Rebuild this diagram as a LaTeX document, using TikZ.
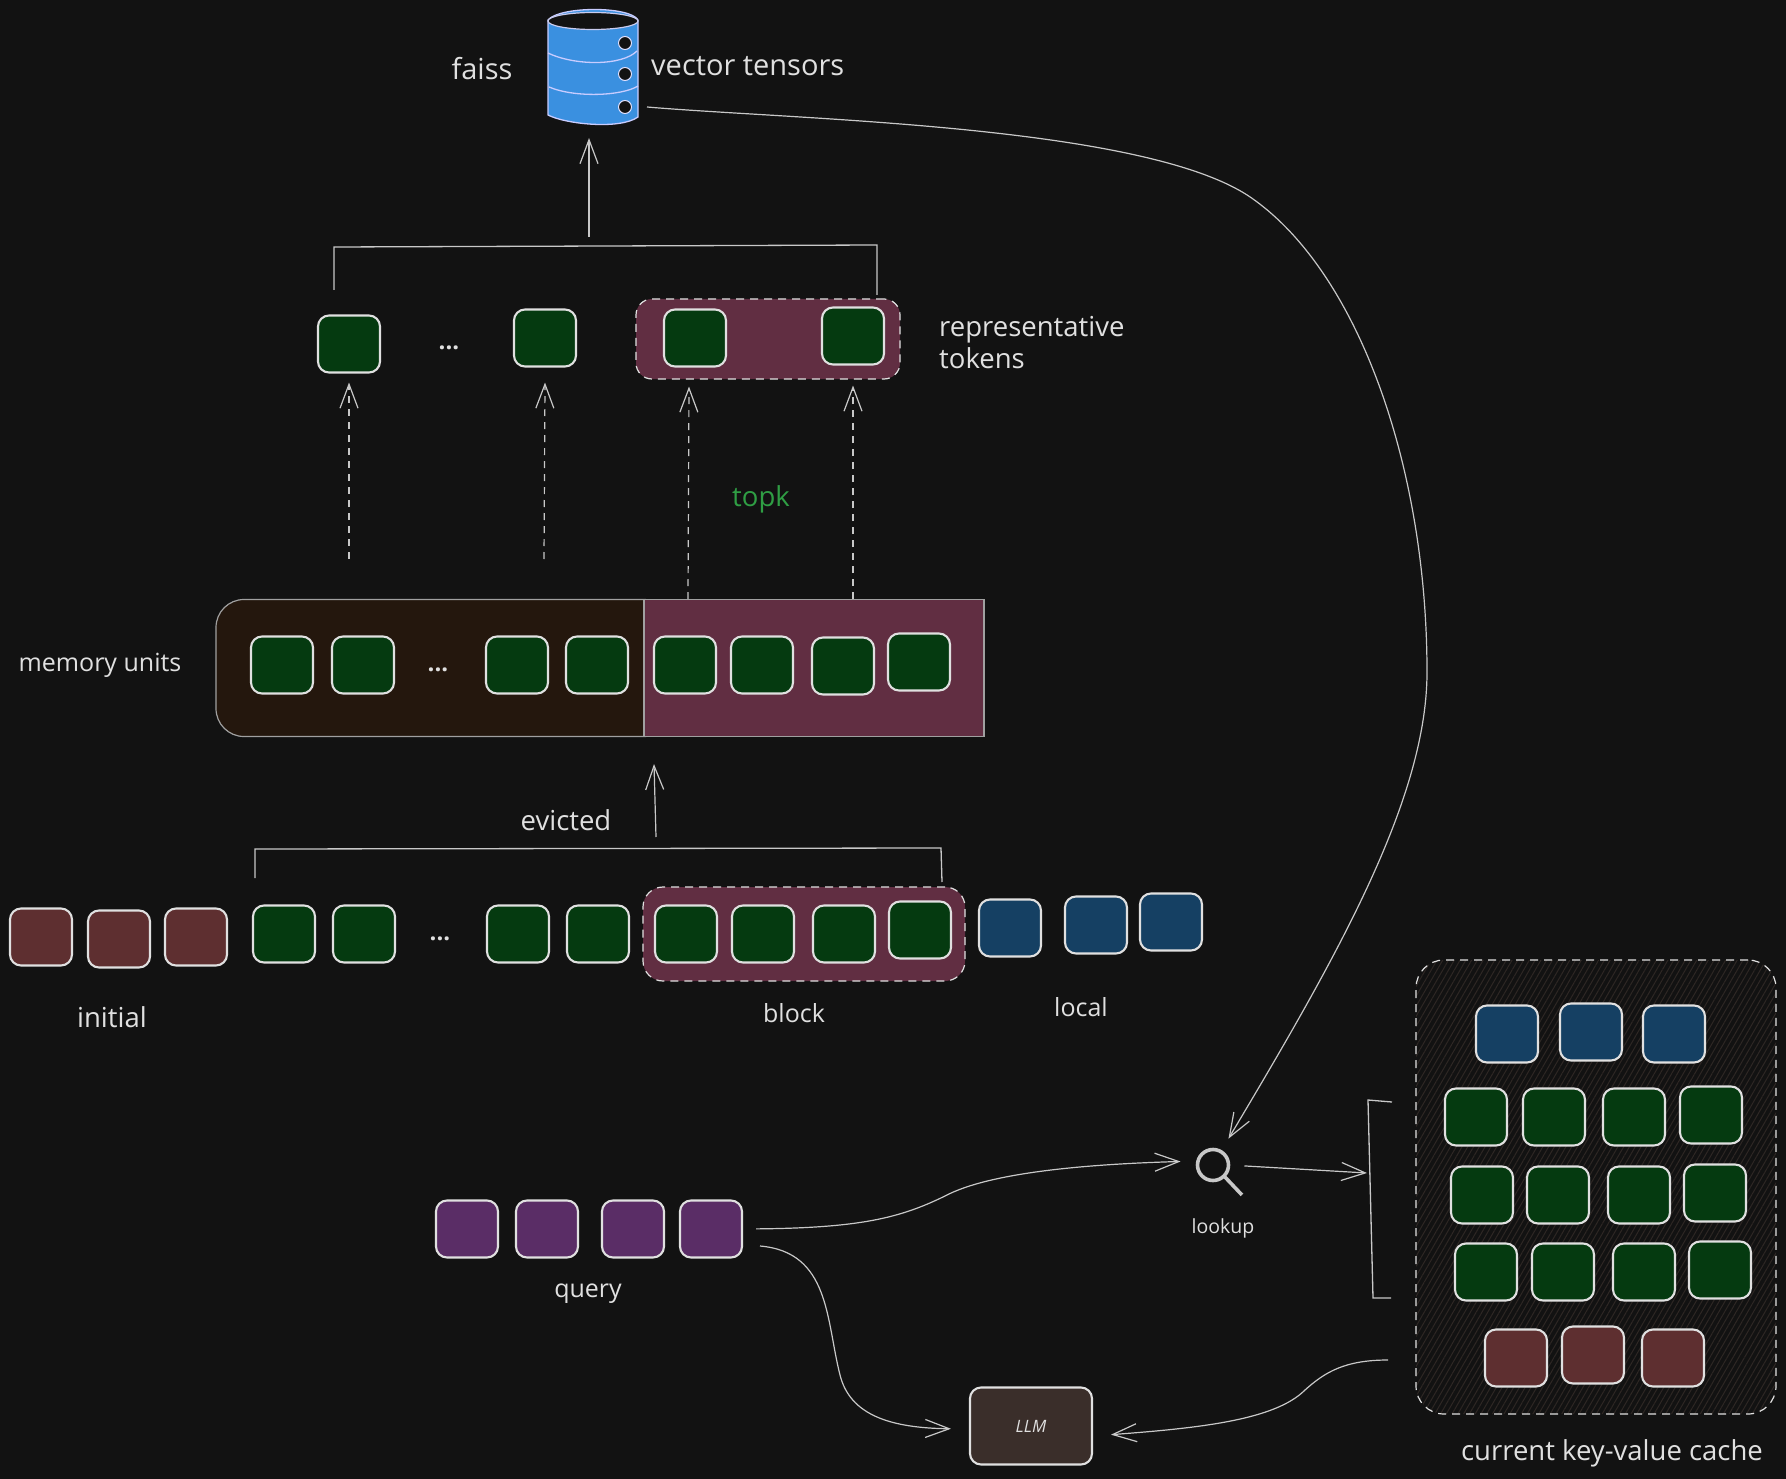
\documentclass[tikz,border=0pt]{standalone}
\usepackage{fontspec}
\setmainfont{Open Sans}
\usetikzlibrary{positioning,arrows.meta,patterns.meta}
\definecolor{bgc}{HTML}{121212}
\definecolor{inkc}{HTML}{E0E0E0}
\definecolor{lnc}{HTML}{C8C8C8}
\definecolor{grn}{HTML}{053A10}
\definecolor{rdc}{HTML}{5E2F30}
\definecolor{blu}{HTML}{154063}
\definecolor{pur}{HTML}{5A2D66}
\definecolor{wine}{HTML}{612E42}
\definecolor{umber}{HTML}{24170D}
\definecolor{llmc}{HTML}{3A2E2A}
\definecolor{hatchc}{HTML}{2E2724}
\definecolor{dbc}{HTML}{3A90E0}
\definecolor{dbl}{HTML}{C8CCFF}
\definecolor{topkc}{HTML}{2F9E44}
\tikzset{
 sq/.style
  = {rectangle, draw=inkc, line width=2.1pt, rounded corners=11pt, inner sep=0pt, outer sep=0pt,
     minimum width=62pt, minimum height=57pt},
 gn/.style = {sq, fill=grn},
 rd/.style = {sq, fill=rdc},
 bu/.style = {sq, fill=blu},
 pu/.style = {sq, fill=pur},
 grp/.style
  = {rectangle, draw=inkc, dashed, dash pattern=on 8pt off 6pt, line width=1.2pt, fill=wine, inner sep=0pt},
 mem/.style
  = {rectangle, draw=lnc!80!black, line width=1.2pt, inner sep=0pt, minimum height=137pt},
 txt/.style
  = {text=inkc, inner sep=0pt, font=\fontsize{25}{32}\selectfont},
 txtw/.style
  = {txt, font=\fontsize{27.5}{32}\selectfont},
 txtx/.style
  = {txt, font=\fontsize{29}{32}\selectfont},
 small/.style
  = {text=inkc, inner sep=0pt, font=\fontsize{19.5}{24}\selectfont},
 dots/.style
  = {text=inkc, inner sep=0pt, font=\bfseries\fontsize{24}{24}\selectfont},
 l/.style
  = {draw=lnc, line width=1.2pt, -{Straight Barb[length=24pt,width=18pt]}},
 ld/.style
  = {l, dashed, dash pattern=on 7pt off 6pt},
 br/.style
  = {draw=lnc, line width=1.3pt}
}

\begin{document}
\begin{tikzpicture}[x=1pt,y=-1pt]
    \fill [bgc] (0,0) rectangle (1786,1479);
    \useasboundingbox (0,0) rectangle (1786,1479);

    % groups behind the squares
    \node [mem, fill=umber, rounded corners=28pt, minimum width=456pt] (memleft) at (444,668) {};
    \node [mem, fill=wine, minimum width=340pt] (memright) at (814,668) {};
    \node [grp, rounded corners=16pt, minimum width=264pt, minimum height=80pt] (repgrp) at (768,339) {};
    \node [grp, rounded corners=20pt, minimum width=322pt, minimum height=94pt] (blockgrp) at (804,934) {};
    \node [grp, fill=none, pattern={Lines[angle=60,distance=5pt,line width=1pt]}, pattern color=hatchc,
           rounded corners=28pt, minimum width=360pt, minimum height=454pt] (cache) at (1596,1187) {};

    % database
    \node [minimum width=90pt, minimum height=116pt, inner sep=0pt] (faissdb) at (593,68) {};
    \filldraw [fill=dbc, draw=dbl, line width=1.3pt] (548,20) -- (548,115)
        .. controls (565,124) and (620,130) .. (638,117) -- (638,20)
        .. controls (630,6) and (560,6) .. cycle;
    \filldraw [fill=bgc, draw=dbl!70!lnc, line width=1.2pt] (593,21) ellipse (45pt and 8.5pt);
    \draw [dbl, line width=1.3pt] (548,53) .. controls (575,66) and (622,66) .. (637,51);
    \draw [dbl, line width=1.3pt] (549,87) .. controls (575,98) and (622,96) .. (638,86);
    \foreach \y in {43,74,107} \filldraw [fill=bgc, draw=dbl!60!white, line width=1pt] (625,\y) circle (6.5pt);

    % representative tokens
    \node [gn] (t1) at (349,344) {};
    \node [gn, right = 134pt of t1, yshift=6pt] (t2) {};
    \node [gn, right = 88pt of t2] (t3) {};
    \node [gn, right = 96pt of t3, yshift=2pt] (t4) {};
    \node [dots] (tdots) at (449,348) {...};

    % memory units
    \node [gn] (m1) at (282,665) {};
    \node [gn, right = 19pt of m1] (m2) {};
    \node [gn, right = 92pt of m2] (m3) {};
    \node [gn, right = 18pt of m3] (m4) {};
    \node [gn, right = 26pt of m4] (m5) {};
    \node [gn, right = 15pt of m5] (m6) {};
    \node [gn, right = 19pt of m6, yshift=-1pt] (m7) {};
    \node [gn, right = 14pt of m7, yshift=4pt] (m8) {};
    \node [dots] (mdots) at (438,670) {...};

    % long row
    \node [rd] (i1) at (41,937) {};
    \node [rd, right = 16pt of i1, yshift=-2pt] (i2) {};
    \node [rd, right = 15pt of i2, yshift=2pt] (i3) {};
    \node [gn, right = 26pt of i3, yshift=3pt] (u1) {};
    \node [gn, right = 18pt of u1] (u2) {};
    \node [gn, right = 92pt of u2] (u3) {};
    \node [gn, right = 18pt of u3] (u4) {};
    \node [gn, right = 26pt of u4] (b1) {};
    \node [gn, right = 15pt of b1] (b2) {};
    \node [gn, right = 19pt of b2] (b3) {};
    \node [gn, right = 14pt of b3, yshift=4pt] (b4) {};
    \node [bu, right = 28pt of b4, yshift=2pt] (r1) {};
    \node [bu, right = 24pt of r1, yshift=3pt] (r2) {};
    \node [bu, right = 13pt of r2, yshift=3pt] (r3) {};
    \node [dots] (udots) at (440,939) {...};

    % cache
    \node [bu] (c1) at (1507,1034) {};
    \node [bu, right = 22pt of c1, yshift=2pt] (c2) {};
    \node [bu, right = 21pt of c2, yshift=-2pt] (c3) {};
    \node [gn] (e1) at (1476,1117) {};
    \node [gn, right = 16pt of e1] (e2) {};
    \node [gn, right = 18pt of e2] (e3) {};
    \node [gn, right = 15pt of e3, yshift=2pt] (e4) {};
    \node [gn] (f1) at (1482,1195) {};
    \node [gn, right = 14pt of f1] (f2) {};
    \node [gn, right = 19pt of f2] (f3) {};
    \node [gn, right = 14pt of f3, yshift=2pt] (f4) {};
    \node [gn] (h1) at (1486,1272) {};
    \node [gn, right = 15pt of h1] (h2) {};
    \node [gn, right = 19pt of h2] (h3) {};
    \node [gn, right = 14pt of h3, yshift=2pt] (h4) {};
    \node [rd] (k1) at (1516,1358) {};
    \node [rd, right = 15pt of k1, yshift=3pt] (k2) {};
    \node [rd, right = 18pt of k2, yshift=-3pt] (k3) {};

    % query, lookup, llm
    \node [pu] (q1) at (467,1229) {};
    \node [pu, right = 18pt of q1] (q2) {};
    \node [pu, right = 24pt of q2] (q3) {};
    \node [pu, right = 16pt of q3] (q4) {};
    \node [circle, draw=inkc!75!gray, line width=3.6pt, inner sep=0pt, outer sep=0pt, minimum size=31pt] (lens) at (1213,1165) {};
    \draw [inkc!75!gray, line width=3.6pt] (lens.-45) -- ++(18,19);
    \node [rectangle, draw=inkc, line width=2.1pt, fill=llmc, rounded corners=11pt, minimum width=122pt, minimum height=77pt,
           text=inkc, font=\itshape\fontsize{17}{18}\selectfont] (llm) at (1031,1426) {LLM};

    % labels
    \node [txtx] (faisslbl) at (482,69) {faiss};
    \node [txtx, anchor=west] (veclbl) at (651,66) {vector tensors};
    \node [txtw, anchor=west, align=left] (replbl) at (939,343) {representative\\tokens};
    \node [txtw, text=topkc] (topklbl) at (761,499) {topk};
    \node [txt] (memlbl) at (100,665) {memory units};
    \node [txtw] (evlbl) at (566,820) {evicted};
    \node [txtw] (initlbl) at (112,1017) {initial};
    \node [txt] (blocklbl) at (794,1013) {block};
    \node [txt] (locallbl) at (1081,1007) {local};
    \node [txt] (querylbl) at (588,1294) {query};
    \node [small] (lookuplbl) at (1223,1228) {lookup};
    \node [txtw] (cachelbl) at (1612,1453) {current key-value cache};

    % free ends
    \coordinate (dbout) at (647,107);
    \coordinate (dbin) at (589,138);
    \coordinate (topmid) at (589,237);
    \coordinate (evfrom) at (656,837);
    \coordinate (evto) at (654,764);
    \coordinate (brk) at (1367,1173);
    \coordinate (cacheout) at (1388,1360);
    \coordinate (qout) at (760,1246);
    \coordinate (up1) at (349,559);
    \coordinate (up2) at (544,559);
    \coordinate (up3) at (688,599);
    \coordinate (up4) at (853,599);

    % brackets
    \path [br] (334,290) -- (334,247) -- (877,245) -- (877,295);
    \path [br] (255,878) -- (255,849) -- (941,848) -- (942,882);
    \path [br] (1392,1102) -- (1368,1100) -- (1373,1298) -- (1391,1298);

    % connectors
    \path [l] (topmid) -- (dbin);
    \path [ld] (up1) -- ([yshift=-10pt]t1.south);
    \path [ld] (up2) -- ([yshift=-16pt]t2.south);
    \path [ld] (up3) -- ([xshift=-6pt,yshift=-20pt]t3.south);
    \path [ld] (up4) -- ([yshift=-21pt]t4.south);
    \path [l] (evfrom) -- (evto);
    \path [l, shorten >=15pt] (dbout) .. controls (800,120) and (1150,125) .. (1253,199)
        .. controls (1360,275) and (1427,470) .. (1427,672)
        .. controls (1427,800) and (1335,960) .. (lens.60);
    \path [l, shorten <=14pt, shorten >=17pt] (q4.east) .. controls (860,1228) and (900,1218) .. (945,1196)
        .. controls (990,1172) and (1090,1164) .. ([yshift=4pt]lens.west);
    \path [l, shorten <=16pt] (lens.east) -- (brk);
    \path [l, shorten >=18pt] (qout) .. controls (830,1252) and (826,1320) .. (840,1375)
        .. controls (850,1415) and (890,1428) .. ([yshift=-3pt]llm.west);
    \path [l, shorten >=18pt] (cacheout) .. controls (1345,1360) and (1325,1372) .. (1305,1390)
        .. controls (1275,1420) and (1200,1428) .. ([yshift=-10pt]llm.east);
\end{tikzpicture}
\end{document}
